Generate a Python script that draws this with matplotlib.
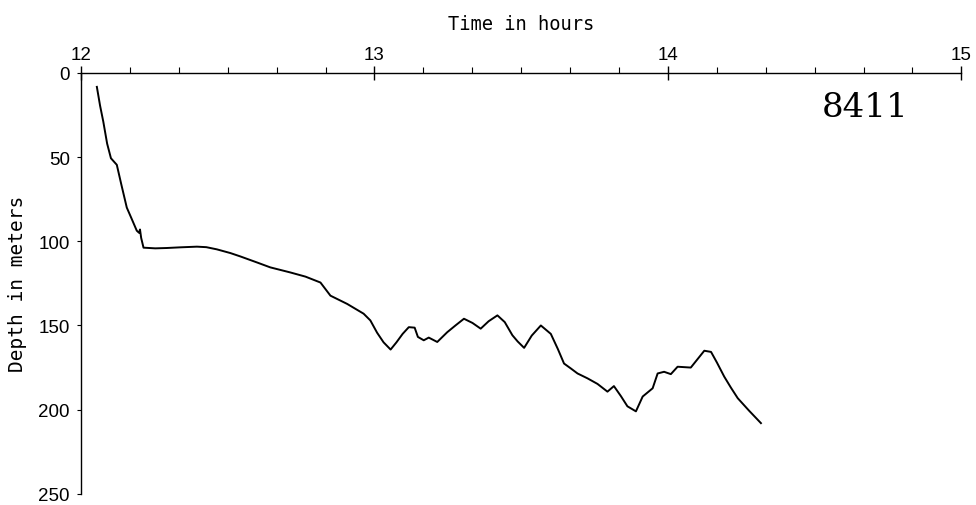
import numpy as np
import matplotlib.pyplot as plt
from matplotlib.ticker import MultipleLocator

# dive profile 8411
time_h = [12.054, 12.065, 12.076, 12.089, 12.102, 12.122, 12.137, 12.156, 12.171,
          12.190, 12.198, 12.201, 12.205, 12.213, 12.253, 12.292, 12.338, 12.395,
          12.427, 12.463, 12.509, 12.543, 12.600, 12.645, 12.713, 12.765, 12.816,
          12.850, 12.907, 12.963, 12.986, 13.009, 13.031, 13.055, 13.075, 13.096,
          13.117, 13.137, 13.148, 13.168, 13.185, 13.214, 13.248, 13.276, 13.305,
          13.334, 13.362, 13.389, 13.419, 13.444, 13.470, 13.488, 13.510, 13.536,
          13.567, 13.601, 13.625, 13.646, 13.669, 13.692, 13.726, 13.760, 13.794,
          13.816, 13.840, 13.862, 13.891, 13.914, 13.948, 13.965, 13.987, 14.010,
          14.033, 14.078, 14.124, 14.147, 14.167, 14.192, 14.215, 14.238, 14.276,
          14.317]
depth_m = [8.3, 19.5, 29.0, 42.0, 50.7, 54.6, 66.0, 80.0, 86.0,
           93.7, 95.0, 93.0, 98.0, 103.8, 104.2, 104.0, 103.6, 103.2,
           103.5, 104.8, 107.0, 109.0, 112.6, 115.5, 118.5, 121.0, 124.5,
           132.3, 137.2, 143.0, 147.0, 154.3, 160.0, 164.3, 160.0, 155.0,
           151.0, 151.3, 156.8, 158.8, 157.2, 159.8, 154.0, 150.0, 146.0,
           148.5, 151.9, 147.5, 144.0, 148.0, 155.8, 159.5, 163.3, 156.0,
           150.0, 155.0, 164.0, 172.6, 175.5, 178.5, 181.4, 184.7, 189.3,
           186.0, 192.0, 198.0, 201.0, 192.2, 187.3, 178.5, 177.5, 178.9,
           174.5, 175.0, 165.0, 165.7, 172.0, 180.4, 187.0, 193.2, 200.5,
           208.0]
x_ticks = [12, 13, 14, 15]
y_ticks = [0, 50, 100, 150, 200, 250]

fig = plt.figure(figsize=(9.76, 5.06), dpi=100)
ax = fig.add_axes([0.083, 0.022, 0.902, 0.832])

ax.plot(time_h, depth_m, color="black", lw=1.4)

ax.set_xlim(12, 15)
ax.set_ylim(250, 0)
ax.xaxis.tick_top()
ax.xaxis.set_label_position("top")
ax.set_xticks(x_ticks)
ax.xaxis.set_minor_locator(MultipleLocator(1 / 6))
ax.set_yticks(y_ticks)

for s in ["right", "bottom"]:
    ax.spines[s].set_visible(False)
for s in ["top", "left"]:
    ax.spines[s].set_linewidth(1.0)

ax.tick_params(axis="x", which="major", direction="inout", length=10, width=1.0,
               pad=2, labelsize=13.5)
ax.tick_params(axis="x", which="minor", direction="out", length=4, width=0.8)
ax.tick_params(axis="y", direction="out", length=3, width=0.8, pad=5, labelsize=13.5)
for lab in ax.get_xticklabels() + ax.get_yticklabels():
    lab.set_family("Liberation Sans")

ax.set_xlabel("Time in hours", family="DejaVu Sans Mono", fontsize=13.5, labelpad=12)
ax.set_ylabel("Depth in meters", family="DejaVu Sans Mono", fontsize=14, labelpad=8)

ax.text(0.891, 0.92, "8411", transform=ax.transAxes, ha="center", va="center",
        family="DejaVu Serif", fontsize=24.5)

fig.savefig("out.png", dpi=100)
